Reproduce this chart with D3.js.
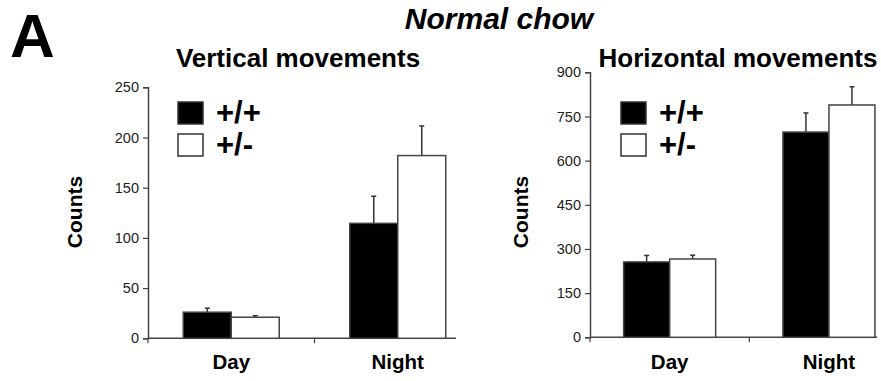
<!DOCTYPE html>
<html><head><meta charset="utf-8">
<script src="https://cdn.jsdelivr.net/npm/d3@7"></script>
<style>
body{margin:0;background:#fff;}
svg{display:block;font-family:"Liberation Sans",Arial,sans-serif;}
</style></head>
<body><svg id="c" width="881" height="381"></svg>
<script>
const categories = ["Day","Night"];
const genotypes = ["+/+","+/-"];
// Vertical movements
const verticalMeans = [[26,21],[114.5,182]];
const verticalErr   = [[4,1.5],[27,29.5]];
const verticalTicks = [0,50,100,150,200,250];
// Horizontal movements
const horizontalMeans = [[256,266],[697,789]];
const horizontalErr   = [[22,13],[65,62]];
const horizontalTicks = [0,150,300,450,600,750,900];

const svg = d3.select("#c");
const axisCol = "#444";

svg.append("text").attr("x",10).attr("y",57).attr("font-size",62).attr("font-weight","bold").text("A");
svg.append("text").attr("x",499).attr("y",29).attr("text-anchor","middle")
  .attr("font-size",30).attr("font-weight","bold").attr("font-style","italic").text("Normal chow");

function panel(o){
  const y = d3.scaleLinear().domain([0,o.ticks[o.ticks.length-1]]).range([o.y0,o.y1]);
  const x = d3.scaleBand().domain(categories).range([o.xl,o.xr]);
  const g = svg.append("g");
  g.append("text").attr("x",o.titleX).attr("y",67).attr("text-anchor","middle")
    .attr("font-size",26).attr("font-weight","bold").text(o.title);
  // y axis
  const ya = g.append("g").attr("transform",`translate(${o.xl},0)`)
    .call(d3.axisLeft(y).tickValues(o.ticks).tickSize(5).tickPadding(4));
  ya.attr("font-size",14.5).attr("font-family","Liberation Sans, Arial, sans-serif");
  ya.select(".domain").attr("stroke",axisCol).attr("stroke-width",1.5);
  ya.selectAll(".tick line").attr("stroke",axisCol).attr("stroke-width",1.2);
  ya.selectAll(".tick text").attr("fill","#222");
  // x axis line
  g.append("line").attr("x1",o.xl).attr("x2",o.axisEnd).attr("y1",y(0)).attr("y2",y(0))
    .attr("stroke",axisCol).attr("stroke-width",1.5);
  [o.xl, x("Night")].forEach(t=>{
    g.append("line").attr("x1",t).attr("x2",t).attr("y1",y(0)).attr("y2",y(0)+5)
      .attr("stroke",axisCol).attr("stroke-width",1.2);
  });
  categories.forEach((c,i)=>{
    const cx = x(c)+x.bandwidth()/2;
    g.append("text").attr("x",cx).attr("y",369).attr("text-anchor","middle")
      .attr("font-size",20.5).attr("font-weight","bold").text(c);
    const x1 = d3.scaleBand().domain(genotypes).range([cx-o.bw, cx+o.bw]);
    genotypes.forEach((gt,j)=>{
      const v = o.means[i][j], e = o.err[i][j];
      const bx = x1(gt), mx = bx + x1.bandwidth()/2;
      g.append("line").attr("x1",mx).attr("x2",mx).attr("y1",y(v)).attr("y2",y(v+e))
        .attr("stroke","#333").attr("stroke-width",1.5);
      g.append("line").attr("x1",mx-2.5).attr("x2",mx+2.5).attr("y1",y(v+e)).attr("y2",y(v+e))
        .attr("stroke","#333").attr("stroke-width",1.5);
      g.append("rect").attr("x",bx).attr("y",y(v)).attr("width",x1.bandwidth()).attr("height",y(0)-y(v))
        .attr("fill", j===0 ? "#000" : "#fff").attr("stroke","#444").attr("stroke-width",1.5);
    });
  });
  // legend
  genotypes.forEach((gt,j)=>{
    const ly = 102 + j*32;
    g.append("rect").attr("x",o.legX).attr("y",ly).attr("width",25).attr("height",22)
      .attr("fill", j===0 ? "#000" : "#fff").attr("stroke","#333").attr("stroke-width",1.5);
    g.append("text").attr("x",o.legX+38).attr("y",ly+21).attr("font-size",31).attr("font-weight","bold").text(gt);
  });
  // y label
  g.append("text").attr("transform",`translate(${o.labX},212) rotate(-90)`).attr("text-anchor","middle")
    .attr("font-size",21).attr("font-weight","bold").text("Counts");
}

panel({title:"Vertical movements", titleX:298, means:verticalMeans, err:verticalErr, ticks:verticalTicks,
  xl:148, xr:481, axisEnd:456, y0:338.3, y1:87.3, bw:48, legX:178, labX:82});
panel({title:"Horizontal movements", titleX:738, means:horizontalMeans, err:horizontalErr, ticks:horizontalTicks,
  xl:590, xr:908.6, axisEnd:877, y0:337.3, y1:72.3, bw:46, legX:621, labX:528});
</script></body></html>
